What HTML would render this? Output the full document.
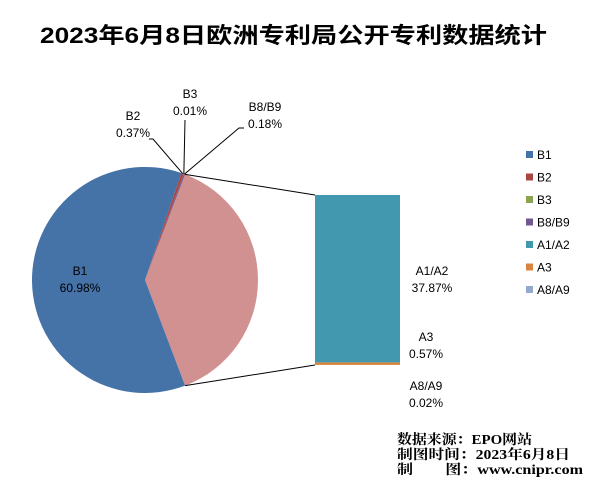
<!DOCTYPE html>
<html><head><meta charset="utf-8"><style>
body{margin:0;background:#fff;}
svg{display:block;font-family:"Liberation Sans","Noto Sans CJK SC",sans-serif;}
</style></head><body>
<svg width="600" height="483" viewBox="0 0 600 483">
<text x="40" y="43" textLength="507" lengthAdjust="spacingAndGlyphs" font-size="22" font-weight="bold">2023年6月8日欧洲专利局公开专利数据统计</text>
<g id="pie"></g>
<g id="bar"></g>
<g id="labels" font-size="12"></g>
<g id="legend" font-size="12"></g>
<g font-size="13.5" font-weight="bold" font-family="'Liberation Serif','Noto Serif CJK SC',serif">
<text x="397" y="444" textLength="135" lengthAdjust="spacingAndGlyphs">数据来源：EPO网站</text>
<text x="397" y="459" textLength="173" lengthAdjust="spacingAndGlyphs">制图时间：2023年6月8日</text>
<text x="397" y="474" textLength="186" lengthAdjust="spacingAndGlyphs">制　　图：www.cnipr.com</text>
</g>
</svg>
<script>
const categories=["B1","B2","B3","B8/B9","A1/A2","A3","A8/A9"];
const values=[60.98,0.37,0.01,0.18,37.87,0.57,0.02];
const colors=["#4572a7","#aa4643","#89a54e","#71588f","#4198af","#db843d","#93a9cf"];
const NS="http://www.w3.org/2000/svg";
function mk(t,a,p){const e=document.createElementNS(NS,t);for(const k in a)e.setAttribute(k,a[k]);p.appendChild(e);return e;}
const cx=145,cy=280,r=113;
const barIdx=[4,5,6];
const total=values.reduce((a,b)=>a+b,0);
const other=barIdx.reduce((s,i)=>s+values[i],0);
const ang=v=>v/total*2*Math.PI;
const pt=a=>[cx+r*Math.cos(a),cy+r*Math.sin(a)];
const pie=document.getElementById('pie');
function wedge(a0,a1,fill,name){
 const [x0,y0]=pt(a0),[x1,y1]=pt(a1);const large=(a1-a0)>Math.PI?1:0;
 const p=mk('path',{d:`M${cx},${cy}L${x0},${y0}A${r},${r} 0 ${large} 1 ${x1},${y1}Z`,fill:fill},pie);
 
 
}
const half=ang(other)/2;
wedge(-half,half,"#d09190","slice-other");
let a=-half;
const order=[3,2,1,0];
const mids={};
for(const i of order){const s=ang(values[i]);wedge(a-s,a,colors[i],"slice-"+categories[i].toLowerCase().replace('/','-'));mids[i]=a-s/2;a-=s;}
const bar=document.getElementById('bar');
const bx=315,bw=85,bTop=195,bBot=365;
const scale=(bBot-bTop)/other;
let y=bBot;
for(const i of [6,5,4]){const h=values[i]*scale;const rc=mk('rect',{x:bx,y:y-h,width:bw,height:h,fill:colors[i]},bar);
 
 y-=h;}
const [tx,ty]=pt(-half),[btx,bty]=pt(half);
const l1=mk('line',{x1:tx,y1:ty,x2:bx,y2:bTop,stroke:"#000","stroke-width":1},bar);


const l2=mk('line',{x1:btx,y1:bty,x2:bx,y2:bBot,stroke:"#000","stroke-width":1},bar);


const lab=document.getElementById('labels');
function label(x,y,i){const t=mk('text',{x:x,y:y,"text-anchor":"middle"},lab);t.textContent=categories[i];
 mk('text',{x:x,y:y+17,"text-anchor":"middle"},lab).textContent=values[i].toFixed(2)+"%";
 
 }
label(80,275,0);label(133,120,1);label(190,98,2);label(265,111,3);
label(432,275,4);label(426,341,5);label(426,390,6);
const [px,py]=pt(mids[1]);
mk('polyline',{points:`${px},${py} 153,139 149,139`,fill:"none",stroke:"#000"},lab);
mk('line',{x1:pt(mids[2])[0],y1:pt(mids[2])[1],x2:185,y2:120,stroke:"#000"},lab);
const [qx,qy]=pt(mids[3]);
mk('polyline',{points:`${qx},${qy} 239,128 244,128`,fill:"none",stroke:"#000"},lab);
const lg=document.getElementById('legend');
categories.forEach((c,i)=>{const yy=155+i*22.5;
 const g=mk('g',{},lg);
 
 
 mk('rect',{x:526,y:yy-4,width:7,height:7,fill:colors[i]},g);
 mk('text',{x:537,y:yy+4},g).textContent=c;});
</script>
</body></html>
